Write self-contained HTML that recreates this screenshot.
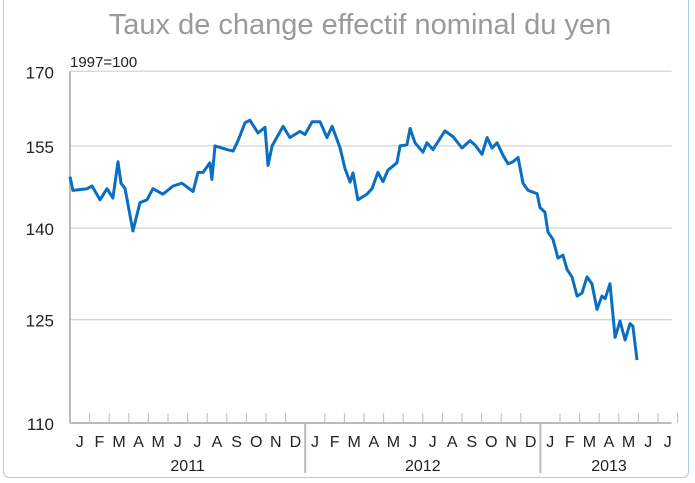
<!DOCTYPE html>
<html><head><meta charset="utf-8"><style>
html,body{margin:0;padding:0;background:#fff;}
body{width:695px;height:483px;overflow:hidden;position:relative;font-family:"Liberation Sans",sans-serif;}
</style></head><body>
<div style="position:absolute;left:3px;top:-10px;width:686px;height:488px;border:1.5px solid #a9cdea;border-radius:6px;box-sizing:border-box;"></div>
<svg id="chart" width="695" height="483" style="position:absolute;left:0;top:0">
<text x="360" y="34" text-anchor="middle" font-size="29" fill="#9a9a9a" font-family="Liberation Sans, sans-serif">Taux de change effectif nominal du yen</text>
<text x="70" y="67" font-size="15" fill="#222">1997=100</text>
<g id="grid"></g><g id="axes"></g><g id="series"></g>
</svg>
<script>
const yTicks=[110,125,140,155,170];
const monthLabels=["J","F","M","A","M","J","J","A","S","O","N","D","J","F","M","A","M","J","J","A","S","O","N","D","J","F","M","A","M","J","J"];
const yearLabels=["2011","2012","2013"];
const months=[0,.15,.87,1.12,1.53,1.89,2.19,2.45,2.6,2.81,3.21,3.57,3.93,4.23,4.74,5.26,5.71,6.28,6.53,6.79,7.14,7.24,7.4,8.01,8.32,8.57,8.93,9.18,9.59,9.95,10.1,10.31,10.87,11.22,11.73,11.99,12.35,12.76,13.11,13.37,13.78,14.03,14.29,14.44,14.69,15.15,15.41,15.71,15.97,16.22,16.68,16.84,17.19,17.35,17.6,18.01,18.21,18.52,19.13,19.54,20,20.41,20.66,21.02,21.28,21.53,21.79,22.09,22.35,22.6,22.86,23.11,23.37,23.83,23.98,24.23,24.39,24.64,24.9,25.15,25.36,25.61,25.87,26.12,26.38,26.63,26.89,27.14,27.3,27.55,27.81,28.06,28.32,28.57,28.72,28.93];
const values=[149.2,146.7,147,147.5,145,147,145.3,152,148,147,139.5,144.5,145,147,146,147.5,148,146.5,150,150,151.8,148.7,155,154.3,154,156,159.5,160,157.5,158.6,151.3,155,158.8,156.6,157.8,157.2,159.7,159.7,156.6,158.8,154.6,150.7,148.2,149.9,145,146,147,150,148.3,150.4,151.8,155,155.2,158.4,155.6,153.8,155.6,154.3,157.9,156.8,154.6,156,155.2,153.4,156.6,154.6,155.6,153.2,151.6,152,152.8,148,146.7,146.1,143.6,142.8,139.3,138.1,134.9,135.4,133,131.8,128.7,129.2,131.8,130.7,126.6,128.7,128.3,130.7,122.3,124.8,121.9,124.4,124,118.9];
const NS="http://www.w3.org/2000/svg";
const x0=70,mw=19.6,yBase=423,k=808;
const xS=m=>x0+m*mw;
const yS=v=>yBase-k*Math.log(v/110);
function mk(tag,attrs,parent,txt){const e=document.createElementNS(NS,tag);for(const a in attrs)e.setAttribute(a,attrs[a]);if(txt!=null)e.textContent=txt;parent.appendChild(e);return e;}
const grid=document.getElementById('grid'),axes=document.getElementById('axes'),ser=document.getElementById('series');
const xEnd=xS(monthLabels.length);
yTicks.forEach(t=>{
 if(t>110){const l=mk('line',{x1:x0,x2:xEnd-6,y1:yS(t),y2:yS(t),stroke:'#d4d4d4','stroke-width':1.3},grid);
 
 }
 const tx=mk('text',{x:54,y:yS(t)+7,'text-anchor':'end','font-size':17,fill:'#222'},axes,String(t));
 
 
});
const ya=mk('line',{x1:x0,x2:x0,y1:yS(170),y2:yBase,stroke:'#bbb','stroke-width':2},axes);


const xa=mk('line',{x1:x0,x2:xEnd-6,y1:yBase,y2:yBase,stroke:'#bbb','stroke-width':2},axes);


for(let i=0;i<=monthLabels.length;i++){
 const big=(i%12===0&&i>0&&i<monthLabels.length);
 const tk=mk('line',{x1:xS(i),x2:xS(i),y1:big?yBase+50:yBase-10,y2:yBase,stroke:'#bbb','stroke-width':big?2:1},axes);
 
 
}
monthLabels.forEach((m,i)=>{
 const t=mk('text',{x:xS(i+.5),y:447,'text-anchor':'middle','font-size':16,fill:'#222'},axes,m);
 
 
});
yearLabels.forEach((y,i)=>{
 const s=i*12,e=Math.min(s+12,monthLabels.length);
 const t=mk('text',{x:xS((s+e)/2),y:471,'text-anchor':'middle','font-size':16,fill:'#222'},axes,y);
 
 
});
const d=months.map((m,i)=>(i?'L':'M')+xS(m).toFixed(1)+' '+yS(values[i]).toFixed(1)).join(' ');
const p=mk('path',{d:d,fill:'none',stroke:'#0a6fc2','stroke-width':3,'stroke-linejoin':'round'},ser);


</script>
</body></html>
